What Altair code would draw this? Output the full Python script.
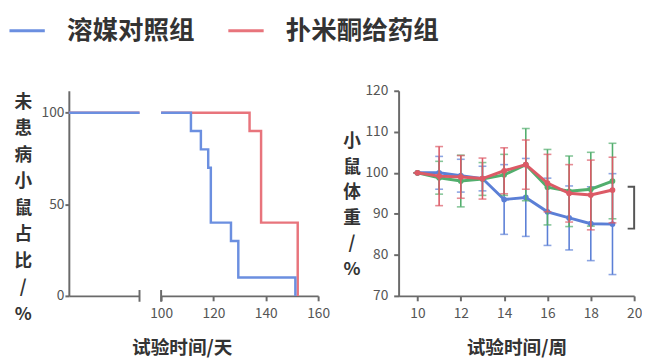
import altair as alt
import pandas as pd

FONT = "Noto Sans CJK SC"

# legend groups
groups = ["溶媒对照组", "扑米酮给药组"]
colors = ["#6b8fe0", "#e8747c"]

# survival (%), early segment (days 0-100)
early_days = [0, 100]
early_blue = [100, 100]
early_red = [100, 100]

# survival (%), later segment (days 100-160)
blue_days = [100, 111.4, 115.2, 118, 119, 126.7, 129.5, 151.3]
blue_surv = [100, 90, 80, 70, 40, 30, 10, 0]
red_days = [100, 133.8, 138.2, 152.2]
red_surv = [100, 90, 40, 0]

# body weight (%) by week
weeks = [10, 11, 12, 13, 14, 15, 16, 17, 18, 19]
blue_mean = [100, 100, 99.3, 98.6, 93.5, 94.0, 90.5, 89.0, 87.6, 87.5]
blue_sd = [0, 4, 4, 3, 8.5, 9.5, 8.2, 7.8, 9.0, 12.3]
green_mean = [100, 98.8, 98.0, 98.5, 99.5, 102.0, 96.5, 95.5, 96.0, 98.0]
green_sd = [0, 4, 6.3, 4, 5, 8.8, 9.2, 8.6, 9.0, 9.2]
red_mean = [100, 99.2, 99.0, 98.6, 100.5, 102.0, 97.5, 95.0, 94.6, 95.8]
red_sd = [0, 7.2, 5.2, 5.0, 5.6, 6.0, 7.0, 7.0, 8.5, 8.0]

# significance bracket
bracket_x = [19.7, 20.0, 20.0, 19.7]
bracket_y = [96.6, 96.6, 86.4, 86.4]

AXIS_GRAY = "#6a6a6a"
color_scale = alt.Scale(domain=groups, range=colors)
legend = alt.Legend(
    orient="none", legendX=-62, legendY=-81, title=None, values=groups, direction="horizontal",
    symbolType="stroke", symbolSize=1296, symbolStrokeWidth=3,
    labelFontSize=26, labelFont=FONT, labelColor="#333333", labelFontWeight="bold",
    labelOffset=21, columnPadding=27, padding=0,
)

Y_SURV = alt.Scale(domain=[0, 112], nice=False, zero=False)
H = 209


def surv_line(days, vals, group, xscale, xaxis, yaxis):
    df = pd.DataFrame({"day": days, "pct": vals, "group": group})
    return alt.Chart(df).mark_line(interpolate="step-after", strokeWidth=2.5).encode(
        x=alt.X("day:Q", scale=xscale, axis=xaxis),
        y=alt.Y("pct:Q", scale=Y_SURV, axis=yaxis),
        color=alt.Color("group:N", scale=color_scale, legend=legend),
    )


def break_tick(xval, xscale, xaxis, yaxis):
    df = pd.DataFrame({"day": [xval], "lo": [-3.2], "hi": [3.2]})
    return alt.Chart(df).mark_rule(color=AXIS_GRAY, strokeWidth=2).encode(
        x=alt.X("day:Q", scale=xscale, axis=xaxis),
        y=alt.Y("lo:Q", scale=Y_SURV, axis=yaxis),
        y2="hi:Q",
    )


# ---- left segment 1
xs1 = alt.Scale(domain=[0, 100], nice=False, zero=False)
xa1 = alt.Axis(labels=False, ticks=False, title=None)
ya1 = alt.Axis(
    values=[0, 50, 100], tickSize=4, labelPadding=1,
    title=list("未患病小鼠占比/%"), titleAngle=0, titleFontSize=18, titleLineHeight=27,
    titleX=-47, titleY=3, titleAlign="center", titleBaseline="top",
)
left1 = alt.layer(
    surv_line(early_days, early_red, groups[1], xs1, xa1, ya1),
    surv_line(early_days, early_blue, groups[0], xs1, xa1, ya1),
    break_tick(100, xs1, xa1, ya1),
).properties(width=72, height=H)

# ---- left segment 2
xs2 = alt.Scale(domain=[100, 160], nice=False, zero=False)
xa2 = alt.Axis(
    values=[100, 120, 140, 160], title="试验时间/天", titleX=21, titleY=53,
    titleBaseline="middle", titleAlign="center", titleFontSize=19,
)
left2 = alt.layer(
    surv_line(red_days, red_surv, groups[1], xs2, xa2, None),
    surv_line(blue_days, blue_surv, groups[0], xs2, xa2, None),
    break_tick(100, xs2, xa2, None),
).properties(width=160, height=H)

# ---- spacer
spacer = alt.Chart(pd.DataFrame({"a": [0]})).mark_point(opacity=0).encode(
    x=alt.value(0), y=alt.value(0)
).properties(width=38, height=H)

# ---- right chart
xs3 = alt.Scale(domain=[9.13, 20], nice=False, zero=False)
ys3 = alt.Scale(domain=[70, 120], nice=False, zero=False)
xa3 = alt.Axis(
    values=[10, 12, 14, 16, 18, 20], title="试验时间/周", titleY=53,
    titleBaseline="middle", titleFontSize=19,
)
ya3 = alt.Axis(
    values=[70, 80, 90, 100, 110, 120], tickSize=5,
    title=list("小鼠体重/%"), titleAngle=0, titleFontSize=18, titleLineHeight=26,
    titleX=-48, titleY=43, titleAlign="center", titleBaseline="top",
)

series = [
    (blue_mean, blue_sd, "#5b7fd6"),
    (green_mean, green_sd, "#52ae6d"),
    (red_mean, red_sd, "#dc5a66"),
]
layers = []
for mean, sd, col in series:
    df = pd.DataFrame({
        "week": weeks, "mean": mean,
        "lo": [m - s for m, s in zip(mean, sd)],
        "hi": [m + s for m, s in zip(mean, sd)],
    })
    base = alt.Chart(df)
    x = alt.X("week:Q", scale=xs3, axis=xa3)
    layers.append(base.mark_rule(color=col, strokeWidth=1.6).encode(
        x=x, y=alt.Y("lo:Q", scale=ys3, axis=ya3), y2="hi:Q"))
    layers.append(base.mark_tick(color=col, orient="horizontal", size=8, thickness=1.6).encode(
        x=x, y=alt.Y("lo:Q", scale=ys3, axis=ya3)))
    layers.append(base.mark_tick(color=col, orient="horizontal", size=8, thickness=1.6).encode(
        x=x, y=alt.Y("hi:Q", scale=ys3, axis=ya3)))
    layers.append(base.mark_line(color=col, strokeWidth=3).encode(
        x=x, y=alt.Y("mean:Q", scale=ys3, axis=ya3)))
    layers.append(base.mark_circle(color=col, size=34, opacity=1).encode(
        x=x, y=alt.Y("mean:Q", scale=ys3, axis=ya3)))

bdf = pd.DataFrame({"x": bracket_x, "y": bracket_y, "o": list(range(len(bracket_x)))})
layers.append(alt.Chart(bdf).mark_line(color="#555555", strokeWidth=2).encode(
    x=alt.X("x:Q", scale=xs3, axis=xa3),
    y=alt.Y("y:Q", scale=ys3, axis=ya3),
    order="o:Q",
))
right = alt.layer(*layers).properties(width=240, height=H)

chart = alt.hconcat(
    left1, left2, spacer, right, spacing=22, bounds="flush"
).properties(
    padding={"left": 0, "top": 0, "right": 0, "bottom": 0}
).configure_view(stroke=None).configure_axis(
    domainColor=AXIS_GRAY, domainWidth=2, tickColor=AXIS_GRAY, tickWidth=2, tickSize=5,
    labelColor="#555555", labelFontSize=14, labelFont=FONT, labelPadding=6, labelFlush=False,
    titleFont=FONT, titleColor="#333333", titleFontWeight="bold", grid=False,
)

chart.save("out.html", embed_options={"renderer": "svg", "actions": False})
